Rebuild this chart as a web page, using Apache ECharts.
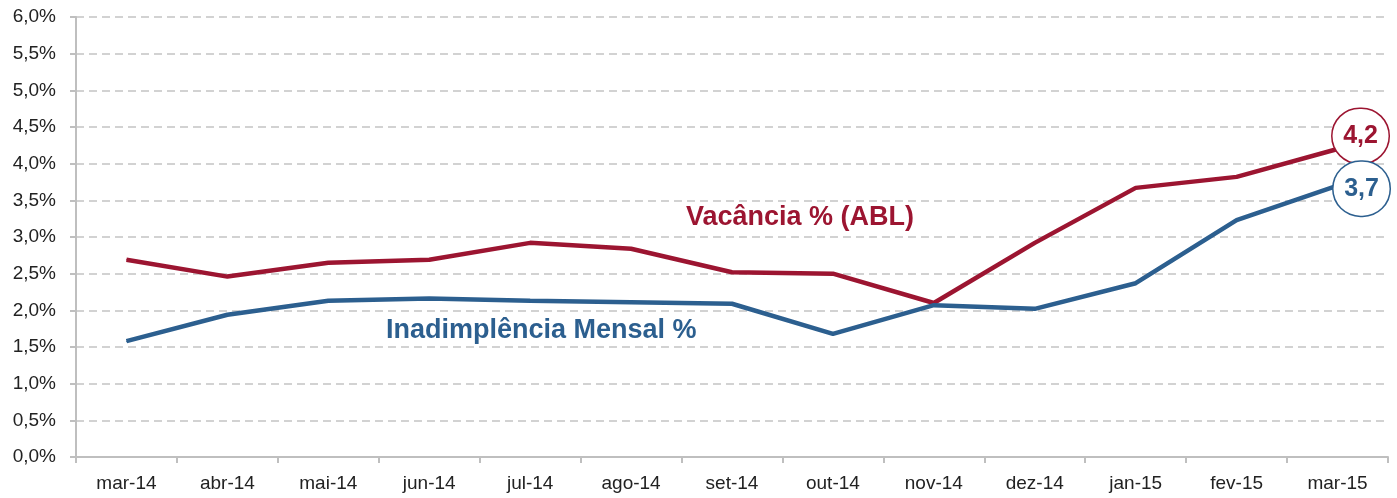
<!DOCTYPE html>
<html><head><meta charset="utf-8">
<script src="https://cdn.jsdelivr.net/npm/echarts@6/dist/echarts.min.js"></script>
<style>html,body{margin:0;padding:0;background:#fff}#c{width:1397px;height:498px}</style>
</head><body><div id="c"></div>
<script>
const categories = ['mar-14','abr-14','mai-14','jun-14','jul-14','ago-14','set-14','out-14','nov-14','dez-14','jan-15','fev-15','mar-15'];
const vacancia = [2.69,2.46,2.65,2.69,2.92,2.84,2.52,2.50,2.10,2.92,3.67,3.82,4.2];
const inadimplencia = [1.58,1.94,2.13,2.16,2.13,2.11,2.09,1.68,2.07,2.02,2.37,3.23,3.7];
const yTicks = {min:0, max:6, interval:0.5};
const RED = '#9c1531', BLUE = '#2c5f8f';
const font = '"Liberation Sans", Arial, sans-serif';

function endLabel(color, txt, offset){
  return {show:true, position:'inside', offset:offset, formatter:txt,
    color:color, fontFamily:font, fontWeight:'bold', fontSize:25,
    backgroundColor:'#fff', borderColor:color, borderWidth:1.5, borderRadius:29,
    width:56, height:54, lineHeight:54, align:'center', verticalAlign:'middle', padding:0};
}
function mk(vals, color, lbl, off){
  return vals.map((v,i)=> i===vals.length-1 ? {value:v, label:endLabel(color,lbl,off)} : v);
}
const chart = echarts.init(document.getElementById('c'), null, {renderer:'canvas'});
chart.setOption({
  animation:false,
  grid:{left:76,right:9,top:17,bottom:41},
  xAxis:{type:'category', data:categories, boundaryGap:true,
    axisLine:{lineStyle:{color:'#bfbfbf',width:2}},
    axisTick:{show:true,length:6,lineStyle:{color:'#bfbfbf',width:2}},
    axisLabel:{color:'#222',fontFamily:font,fontSize:19,margin:17}},
  yAxis:{type:'value', min:yTicks.min, max:yTicks.max, interval:yTicks.interval,
    axisLine:{show:true,lineStyle:{color:'#bfbfbf',width:2}},
    axisTick:{show:true,length:6,lineStyle:{color:'#bfbfbf',width:2}},
    splitLine:{lineStyle:{color:'#c4c4c4',type:[8,5],width:1.5}},
    axisLabel:{color:'#222',fontFamily:font,fontSize:19,margin:20,
      formatter:v=>v.toFixed(1).replace('.',',')+'%'}},
  series:[
    {name:'Vacância % (ABL)', type:'line', data:mk(vacancia,RED,'4,2',[23,-13]), symbol:'circle', symbolSize:1, showSymbol:true,
      itemStyle:{color:RED}, lineStyle:{color:RED,width:4.5}, z:3, label:{show:false}},
    {name:'Inadimplência Mensal %', type:'line', data:mk(inadimplencia,BLUE,'3,7',[24,3]), symbol:'circle', symbolSize:1, showSymbol:true,
      itemStyle:{color:BLUE}, lineStyle:{color:BLUE,width:4.5}, z:4, label:{show:false}}
  ],
  graphic:[
    {type:'text', left:686, top:204, style:{text:'Vacância % (ABL)', fill:RED, font:'bold 27px '+font}},
    {type:'text', left:386, top:317, style:{text:'Inadimplência Mensal %', fill:BLUE, font:'bold 27px '+font}}
  ]
});
</script></body></html>
